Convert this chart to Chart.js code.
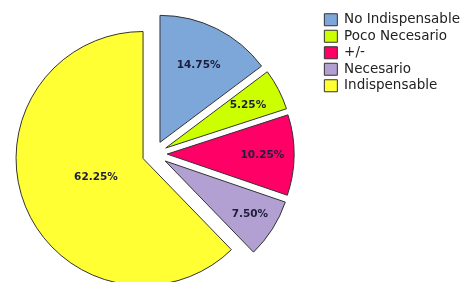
<!DOCTYPE html>
<html>
<head>
<meta charset="utf-8">
<script src="https://cdn.jsdelivr.net/npm/chart.js@4.4.1/dist/chart.umd.min.js"></script>
<style>
  html, body { margin: 0; padding: 0; background: #fff; overflow: hidden; }
  body { width: 465px; height: 282px; position: relative; }
  /* canvas is shifted left so the pie sits where the original one does */
  #wrap { position: absolute; left: -13px; top: 0; width: 489px; height: 300px; }
</style>
</head>
<body>
<div id="wrap"><canvas id="pie-canvas" width="489" height="300"></canvas></div>
<script>
const CATEGORIES   = ['No Indispensable', 'Poco Necesario', '+/-', 'Necesario', 'Indispensable'];
const SHARES       = [14.75, 5.25, 10.25, 7.50, 62.25];
const VALUE_LABELS = ['14.75%', '5.25%', '10.25%', '7.50%', '62.25%'];

const SLICE_COLORS = ['#7da7d9', '#ccff00', '#ff0066', '#b3a0d2', '#ffff33'];
const EXPLODE      = [13, 13, 13, 13, 12];          // px pulled out along the mid-angle
const LABEL_RADIUS = [0.68, 0.73, 0.75, 0.79, 0.40]; // fraction of outer radius

// every slice is pulled out a little (keeps its radius, unlike the built-in offset)
const explodePlugin = {
    id: 'explode',
    afterDatasetsUpdate(chart) {
        chart.getDatasetMeta(0).data.forEach((arc, i) => {
            const mid = (arc.startAngle + arc.endAngle) / 2;
            arc.x += Math.cos(mid) * EXPLODE[i];
            arc.y += Math.sin(mid) * EXPLODE[i];
        });
    }
};

const valueLabelPlugin = {
    id: 'valueLabels',
    afterDatasetsDraw(chart) {
        const ctx = chart.ctx;
        ctx.save();
        ctx.font = 'bold 10.5px "DejaVu Sans"';
        ctx.fillStyle = '#1e1e3c';
        ctx.textAlign = 'center';
        ctx.textBaseline = 'middle';
        chart.getDatasetMeta(0).data.forEach((arc, i) => {
            const mid = (arc.startAngle + arc.endAngle) / 2;
            const r = arc.outerRadius * LABEL_RADIUS[i];
            ctx.fillText(VALUE_LABELS[i], arc.x + Math.cos(mid) * r, arc.y + Math.sin(mid) * r);
        });
        ctx.restore();
    }
};

new Chart(document.getElementById('pie-canvas'), {
    type: 'pie',
    data: {
        labels: CATEGORIES,
        datasets: [{
            data: SHARES,
            backgroundColor: SLICE_COLORS,
            borderColor: '#333333',
            borderWidth: 1,
            radius: 127,
        }]
    },
    options: {
        responsive: false,
        animation: false,
        events: [],
        layout: { padding: { top: 10, bottom: 2, left: 0, right: 6 } },
        plugins: {
            tooltip: { enabled: false },
            legend: {
                position: 'right',
                align: 'start',
                labels: {
                    boxWidth: 13,
                    boxHeight: 12,
                    padding: 3,
                    color: '#222222',
                    font: { family: '"DejaVu Sans"', size: 13.5 },
                }
            }
        }
    },
    plugins: [explodePlugin, valueLabelPlugin]
});
</script>
</body>
</html>
